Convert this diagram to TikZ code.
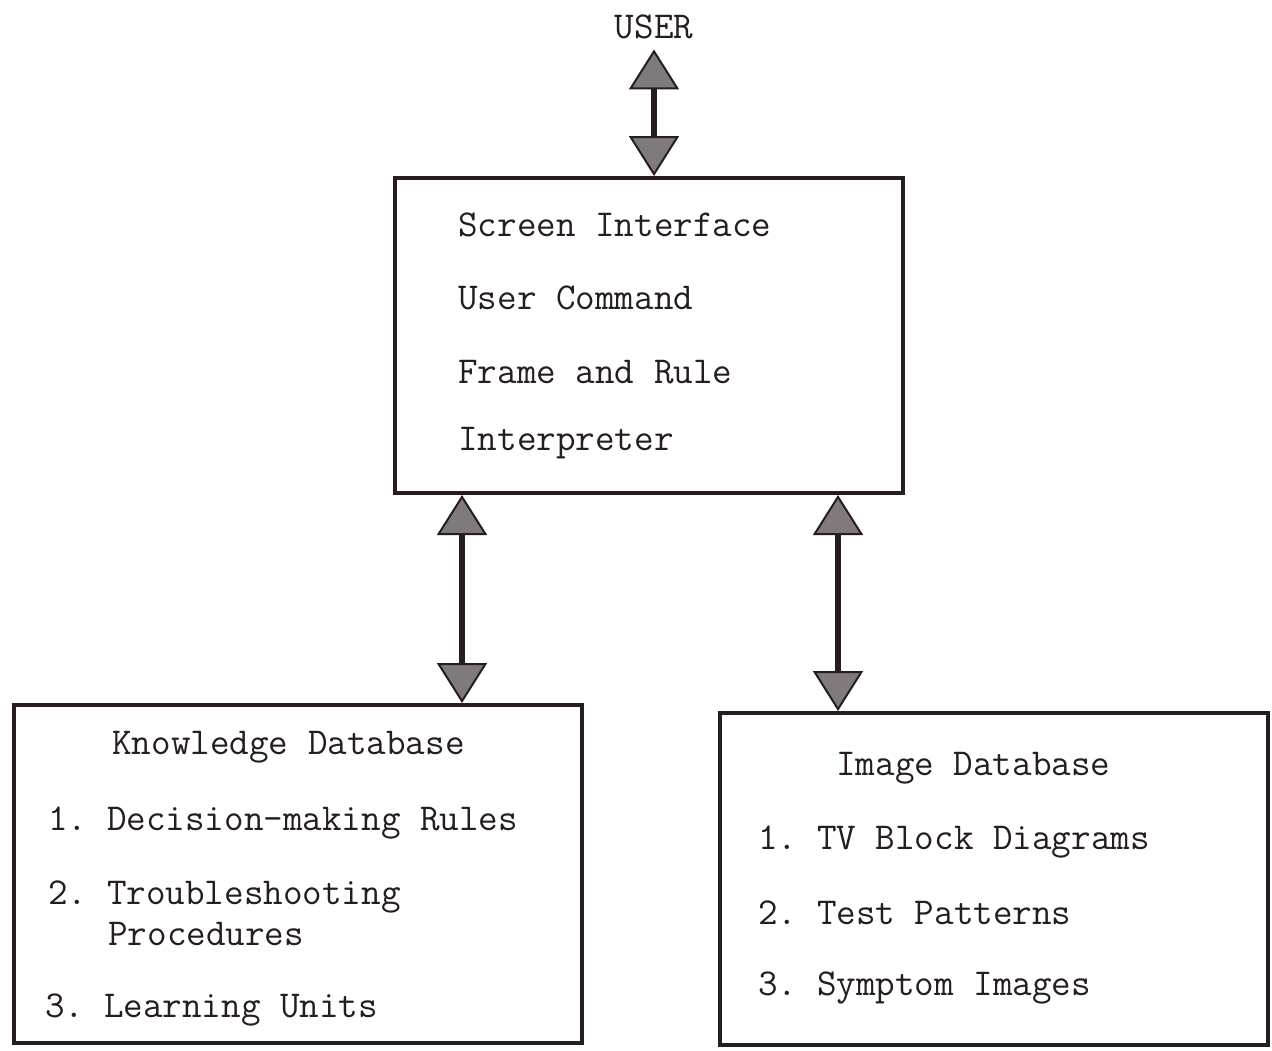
\documentclass[tikz,border=0pt]{standalone}
\usetikzlibrary{arrows.meta}
\definecolor{ink}{RGB}{38,30,30}
\definecolor{headgray}{RGB}{128,122,126}
\frenchspacing
\begin{document}
\begin{tikzpicture}[x=0.5pt,y=-0.5pt,
  box/.style={draw=ink,line width=2pt,inner sep=0pt},
  txt/.style={anchor=west,inner sep=0pt,text=ink,font=\fontsize{19}{23}\selectfont\ttfamily\frenchspacing},
  link/.style={draw=ink,line width=2.6pt,{Triangle[width=25pt,length=20pt,line width=1pt,fill=headgray]}-{Triangle[width=25pt,length=20pt,line width=1pt,fill=headgray]}}
]
\useasboundingbox[fill=white] (0,0) rectangle (1272,1050);

% boxes
\node[box,minimum width=254pt,minimum height=157.5pt] (ui) at (649,335.5) {};
\node[box,minimum width=284pt,minimum height=169pt] (kb) at (298,874) {};
\node[box,minimum width=274pt,minimum height=166pt] (img) at (994,879) {};

% user label
\node[txt,anchor=center] (user) at (654,27) {USER};

% interface box text
\node[txt] (ui1) at (458,225) {Screen Interface};
\node[txt] (ui2) at (458,298) {User Command};
\node[txt] (ui3) at (458,372) {Frame and Rule};
\node[txt] (ui4) at (458,443) {Interpreter};

% knowledge database text
\node[txt] (kb0) at (112,747) {Knowledge Database};
\node[txt] (kb1) at (48,823) {1. Decision-making Rules};
\node[txt] (kb2) at (48,897) {2. Troubleshooting};
\node[txt] (kb2b) at (108,934) {Procedures};
\node[txt] (kb3) at (45,1010) {3. Learning Units};

% image database text
\node[txt] (im0) at (836,768) {Image Database};
\node[txt] (im1) at (758,842) {1. TV Block Diagrams};
\node[txt] (im2) at (758,913) {2. Test Patterns};
\node[txt] (im3) at (758,988) {3. Symptom Images};

% two-way connectors
\coordinate (ka) at (462,0);
\coordinate (ia) at (838,0);
\draw[link,shorten <=5pt] (user.south) -- (user.south |- ui.north);
\draw[link] (ka |- ui.south) -- (ka |- kb.north);
\draw[link] (ia |- ui.south) -- (ia |- img.north);
\end{tikzpicture}
\end{document}
